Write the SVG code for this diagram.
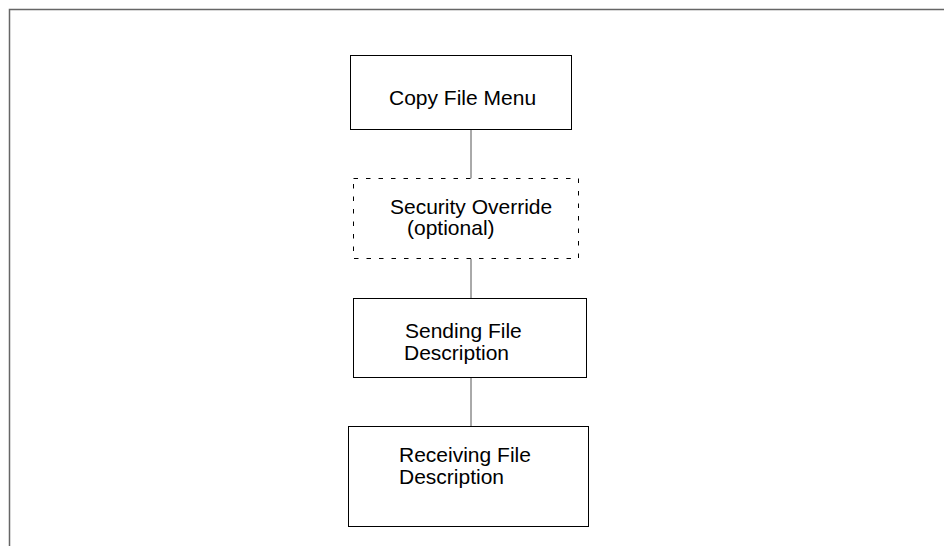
<svg xmlns="http://www.w3.org/2000/svg" width="944" height="546" viewBox="0 0 944 546">
<style>
.box{fill:#fff;stroke:#000;stroke-width:1}
.dash{fill:#fff;stroke:#000;stroke-width:1;stroke-dasharray:4.5 8}
.conn{stroke:#555;stroke-width:1;fill:none}
.frame{stroke:#666;stroke-width:1.5;fill:none}
text{font-family:"Liberation Sans",Arial,sans-serif;font-size:21px;fill:#000}
</style>
<rect width="944" height="546" fill="#fff"/>
<path class="frame" d="M9.5 546 V9.5 H944"/>
<g id="connectors">
<line class="conn" x1="471" y1="129.5" x2="471" y2="178.5"/>
<line class="conn" x1="471" y1="258.5" x2="471" y2="298.5"/>
<line class="conn" x1="471" y1="377.5" x2="471" y2="426.5"/>
</g>
<g id="copy-file-menu">
<rect class="box" x="350.5" y="55.5" width="221" height="74"/>
<text x="389" y="105">Copy File Menu</text>
</g>
<g id="security-override">
<rect class="dash" x="353.5" y="178.5" width="225" height="80"/>
<text x="390" y="214">Security Override</text>
<text x="407" y="235">(optional)</text>
</g>
<g id="sending-file">
<rect class="box" x="353.5" y="298.5" width="233" height="79"/>
<text x="405" y="338">Sending File</text>
<text x="404" y="360">Description</text>
</g>
<g id="receiving-file">
<rect class="box" x="348.5" y="426.5" width="240" height="100"/>
<text x="399" y="462">Receiving File</text>
<text x="399" y="484">Description</text>
</g>
</svg>
